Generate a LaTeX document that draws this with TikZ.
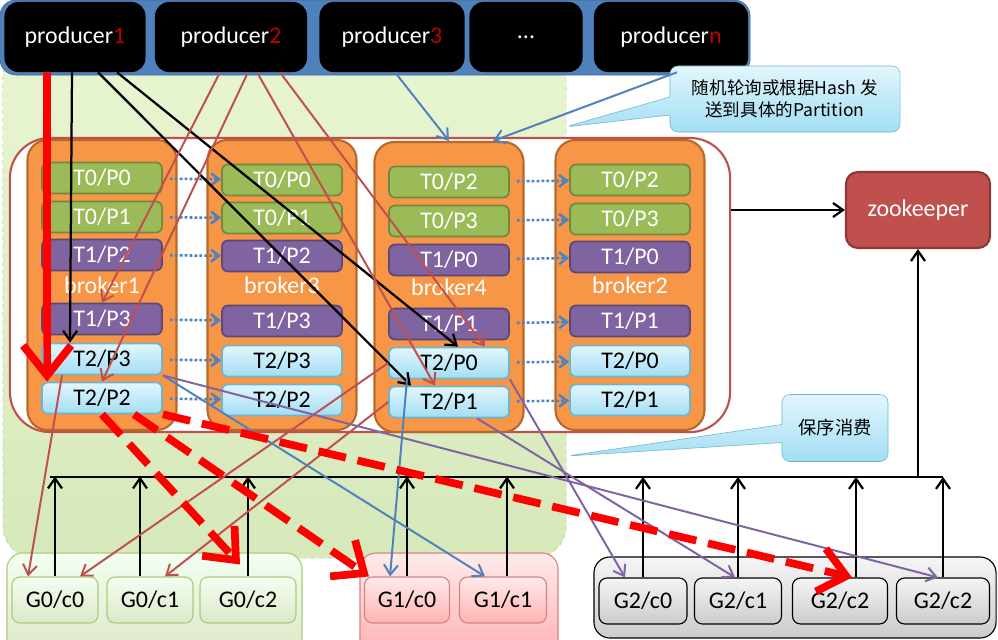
\documentclass[tikz,border=0pt]{standalone}
\usepackage{fontspec}
\setmainfont{Carlito}
\newfontfamily\cjk{Noto Sans CJK SC}
\usetikzlibrary{positioning,arrows.meta,shapes.callouts}

\definecolor{kband}{HTML}{4F81BD}
\definecolor{knum}{HTML}{C00000}
\definecolor{kgreen}{HTML}{9BBB59}
\definecolor{kgreenD}{HTML}{71893F}
\definecolor{kpurple}{HTML}{8064A2}
\definecolor{kpurpleD}{HTML}{5C4776}
\definecolor{kcyanT}{HTML}{E2F6FD}
\definecolor{kcyanB}{HTML}{A2DEF3}
\definecolor{kcyanD}{HTML}{6DB5CF}
\definecolor{korange}{HTML}{F79646}
\definecolor{korangeD}{HTML}{B7692C}
\definecolor{kred}{HTML}{C0504D}
\definecolor{kredD}{HTML}{8C3836}
\definecolor{kfieldT}{HTML}{E8F5D2}
\definecolor{kfieldB}{HTML}{D6E9BA}

\newcommand\kfont{\fontsize{17}{20}\selectfont}

\tikzset{
  band/.style={fill=kband,draw=kband!80!black,rounded corners=0.4cm,minimum width=18.75cm,minimum height=1.875cm},
  field/.style={top color=kfieldT,bottom color=kfieldB,draw=kgreen!70,dashed,thin,rounded corners=0.8cm,minimum width=14.075cm,minimum height=12.825cm},
  prod/.style={fill=black,rounded corners=0.35cm,text=white,minimum height=1.75cm,font=\kfont},
  hint/.style={rectangle callout,top color=kcyanT,bottom color=kcyanB,draw=kcyanD,rounded corners=0.2cm,callout pointer width=0.45cm,align=center},
  cluster/.style={draw=kred,fill=white,line width=1.5pt,rounded corners=1cm,minimum width=18cm,minimum height=7.35cm},
  broker/.style={fill=korange,draw=korangeD,line width=1.5pt,rounded corners=0.5cm,minimum width=3.725cm,minimum height=7.25cm,text=white,font=\kfont},
  part/.style={rounded corners=0.15cm,line width=1.2pt,minimum width=3cm,minimum height=0.775cm,inner sep=0pt,font=\kfont},
  tgreen/.style={part,fill=kgreen,draw=kgreenD,text=white},
  tpurple/.style={part,fill=kpurple,draw=kpurpleD,text=white},
  tcyan/.style={part,top color=kcyanT,bottom color=kcyanB,draw=kcyanD},
  zk/.style={fill=kred,draw=kredD,line width=1.5pt,rounded corners=0.3cm,text=white,minimum width=3.6cm,minimum height=1.9cm,font=\kfont},
  grp/.style={rounded corners=0.4cm,line width=0.8pt},
  cons/.style={rounded corners=0.2cm,line width=0.8pt,minimum height=1.15cm,inner sep=0pt,font=\kfont},
  g0/.style={top color=green!5!white,bottom color=kgreen!35,draw=kgreen!80},
  g1/.style={top color=red!8!white,bottom color=red!30,draw=kred!70},
  g2/.style={top color=gray!8,bottom color=gray!40,draw=black},
  rep/.style={kband,line width=1.8pt,dash pattern=on 2pt off 1.5pt,-{Straight Barb[length=2mm,width=3mm]},shorten <=5pt},
  parr/.style={black,line width=1.6pt,-{Straight Barb[length=2.5mm,width=3.5mm]}},
  rarr/.style={kred,line width=1.4pt,-{Straight Barb[length=2.5mm,width=3.5mm]}},
  barr/.style={kband,line width=1.4pt,-{Straight Barb[length=2.5mm,width=3.5mm]}},
  varr/.style={kpurple,line width=1.4pt,-{Straight Barb[length=2.5mm,width=3.5mm]}},
  uarr/.style={black,line width=1.6pt,-{Straight Barb[length=2.5mm,width=3.5mm]}},
  bigred/.style={red,line width=5.5pt,-{Straight Barb[length=7.5mm,width=12mm]}},
  bigdash/.style={red,line width=5.5pt,dash pattern=on 0.7cm off 0.3cm,-{Straight Barb[length=6.5mm,width=11mm]}}
}

\begin{document}
\begin{tikzpicture}[x=0.025cm,y=-0.025cm]
  \clip (0,0) rectangle (998,639);
  \fill[white] (0,0) rectangle (998,639);

  % producers
  \node[field] (field) at (284.5,301.5) {};
  \node[band] (band) at (375,37.5) {};
  \node[prod,minimum width=3.525cm] (p1) at (75,37) {producer\textcolor{knum}{1}};
  \node[prod,minimum width=3.8cm] (p2) at (231,37) {producer\textcolor{knum}{2}};
  \node[prod,minimum width=3.625cm] (p3) at (392,37) {producer\textcolor{knum}{3}};
  \node[prod,minimum width=2.825cm] (pdots) at (526,37) {...};
  \node[prod,minimum width=3.85cm] (pn) at (671,37) {producer\textcolor{knum}{n}};

  \node[hint,minimum width=5.75cm,minimum height=1.65cm,callout absolute pointer={(565,127)},
    font=\cjk\fontsize{12.5}{15.5}\selectfont] (route) at (785,99) {随机轮询或根据Hash 发\\送到具体的Partition};

  % brokers
  \node[cluster] (kafka) at (370,285) {};
  \node[broker] (b1) at (102,285) {broker1};
  \node[broker] (b3) at (282,285) {broker3};
  \node[broker] (b4) at (449,287) {broker4};
  \node[broker] (b2) at (630,285) {broker2};

  \node[tgreen] (b1t00) at (102,178) {T0/P0};
  \node[tgreen] (b1t01) at (102,217) {T0/P1};
  \node[tpurple] (b1t12) at (102,255) {T1/P2};
  \node[tpurple] (b1t13) at (102,319) {T1/P3};
  \node[tcyan] (b1t23) at (102,359) {T2/P3};
  \node[tcyan] (b1t22) at (102,398) {T2/P2};

  \node[tgreen] (b3t00) at (282,180) {T0/P0};
  \node[tgreen] (b3t01) at (282,218) {T0/P1};
  \node[tpurple] (b3t12) at (282,256) {T1/P2};
  \node[tpurple] (b3t13) at (282,321) {T1/P3};
  \node[tcyan] (b3t23) at (282,361) {T2/P3};
  \node[tcyan] (b3t22) at (282,400) {T2/P2};

  \node[tgreen] (b4t02) at (449,182) {T0/P2};
  \node[tgreen] (b4t03) at (449,221) {T0/P3};
  \node[tpurple] (b4t10) at (449,260) {T1/P0};
  \node[tpurple] (b4t11) at (449,324) {T1/P1};
  \node[tcyan] (b4t20) at (449,363) {T2/P0};
  \node[tcyan] (b4t21) at (449,402) {T2/P1};

  \node[tgreen] (b2t02) at (630,180) {T0/P2};
  \node[tgreen] (b2t03) at (630,219) {T0/P3};
  \node[tpurple] (b2t10) at (630,257) {T1/P0};
  \node[tpurple] (b2t11) at (630,321) {T1/P1};
  \node[tcyan] (b2t20) at (630,361) {T2/P0};
  \node[tcyan] (b2t21) at (630,400) {T2/P1};

  \draw[rep] (b1t00) -- (b3t00);
  \draw[rep] (b1t01) -- (b3t01);
  \draw[rep] (b1t12) -- (b3t12);
  \draw[rep] (b1t13) -- (b3t13);
  \draw[rep] (b1t23) -- (b3t23);
  \draw[rep] (b1t22) -- (b3t22);
  \draw[rep] (b4t02) -- (b2t02);
  \draw[rep] (b4t03) -- (b2t03);
  \draw[rep] (b4t10) -- (b2t10);
  \draw[rep] (b4t11) -- (b2t11);
  \draw[rep] (b4t20) -- (b2t20);
  \draw[rep] (b4t21) -- (b2t21);

  \node[zk] (zk) at (918,210) {zookeeper};
  \node[hint,minimum width=2.65cm,minimum height=1.675cm,callout absolute pointer={(567,456)},
    font=\cjk\fontsize{13}{16}\selectfont] (order) at (835,428) {保序消费};

  % consumer groups
  \node[grp,g0,minimum width=7.375cm,minimum height=2.55cm] (grp0) at (154.5,604) {};
  \node[grp,g1,minimum width=4.95cm,minimum height=2.55cm] (grp1) at (459,604) {};
  \node[grp,g2,minimum width=10.05cm,minimum height=2.025cm] (grp2) at (795,597.5) {};
  \node[cons,g0,minimum width=2.15cm] (g0c0) at (55,600) {G0/c0};
  \node[cons,g0,minimum width=2.15cm] (g0c1) at (150,600) {G0/c1};
  \node[cons,g0,minimum width=2.4cm] (g0c2) at (248,600) {G0/c2};
  \node[cons,g1,minimum width=2.125cm] (g1c0) at (407,600) {G1/c0};
  \node[cons,g1,minimum width=2.175cm] (g1c1) at (503,600) {G1/c1};
  \node[cons,g2,minimum width=2.2cm] (g2c0) at (643,601) {G2/c0};
  \node[cons,g2,minimum width=2.175cm] (g2c1) at (738,601) {G2/c1};
  \node[cons,g2,minimum width=2.375cm] (g2c2) at (840,601) {G2/c2};
  \node[cons,g2,minimum width=2.325cm] (g2c2b) at (943,601) {G2/c2};

  % consumers report to zookeeper
  \coordinate (busL) at (50,477);
  \coordinate (busR) at (943,477);
  \draw[black,line width=1.6pt] (busL) -- (busR);
  \draw[uarr] (g0c0.north) -- +(0,-100);
  \draw[uarr] ([xshift=-0.25cm]g0c1.north) -- +(0,-100);
  \draw[uarr] (g0c2.north) -- +(0,-100);
  \draw[uarr] (g1c0.north) -- +(0,-100);
  \draw[uarr] ([xshift=0.1cm]g1c1.north) -- +(0,-100);
  \draw[uarr] (g2c0.north) -- +(0,-100.5);
  \draw[uarr] (g2c1.north) -- +(0,-100.5);
  \draw[uarr] ([xshift=0.4cm]g2c2.north) -- +(0,-100.5);
  \draw[uarr] (g2c2b.north) -- +(0,-100.5);
  \draw[uarr] (zk.south |- busL) -- (zk.south);
  \draw[parr] (kafka.east |- zk.west) -- (zk.west);

  % producers to partitions
  \draw[bigred] ([xshift=-0.7cm]p1.south) -- ([xshift=0.15cm]b1t22.north west);
  \draw[parr] ([xshift=-0.075cm]p1.south) -- ([xshift=-0.8cm]b1t23.north);
  \draw[parr] ([xshift=0.575cm]p1.south) -- ([xshift=-0.95cm]b4t21.north);
  \draw[parr] ([xshift=1.05cm]p1.south) -- ([xshift=0.225cm]b4t20.north);
  \draw[rarr] ([xshift=-0.275cm]p2.south) -- (b1t13.north);
  \draw[rarr] ([xshift=0.425cm]p2.south) -- (b1t22.north);
  \draw[rarr] ([xshift=0.65cm]p2.south) -- ([xshift=-0.35cm]b4t21.north);
  \draw[rarr] ([xshift=1.225cm]p2.south) -- ([xshift=0.9cm]b4t20.north);
  \draw[barr] ([xshift=0.075cm]p3.south) -- (b4.north);
  \draw[barr] ([xshift=0.15cm]pn.south) -- ([xshift=1.1cm]b4.north);

  % partitions to consumers
  \draw[rarr] ([xshift=-1cm]b1t23.south) -- ([xshift=-0.675cm]g0c0.north);
  \draw[rarr] (b4t20.west) -- ([xshift=0.625cm]g0c0.north);
  \draw[rarr] (b4t21.west) -- ([xshift=0.375cm]g0c1.north);
  \draw[barr] (b1t23.south east) -- ([xshift=-0.45cm]g1c1.north);
  \draw[barr] ([xshift=-1.05cm]b4t20.south) -- ([xshift=-0.425cm]g1c0.north);
  \draw[varr] (b1t23.south east) -- ([xshift=-0.125cm]g2c2b.north);
  \draw[varr] (b4t20.south east) -- ([xshift=-0.45cm]g2c0.north);
  \draw[varr] ([xshift=0.7cm]b4t21.south) -- ([xshift=-0.075cm]g2c1.north);
  \draw[bigdash] (b1t22.south) -- ([xshift=-0.2cm,yshift=0.3cm]g0c2.north);
  \draw[bigdash] ([xshift=0.8cm]b1t22.south) -- ([xshift=0.125cm]g1c0.north west);
  \draw[bigdash] (b1t22.south east) -- ([xshift=0.3cm]g2c2.north);
\end{tikzpicture}
\end{document}
